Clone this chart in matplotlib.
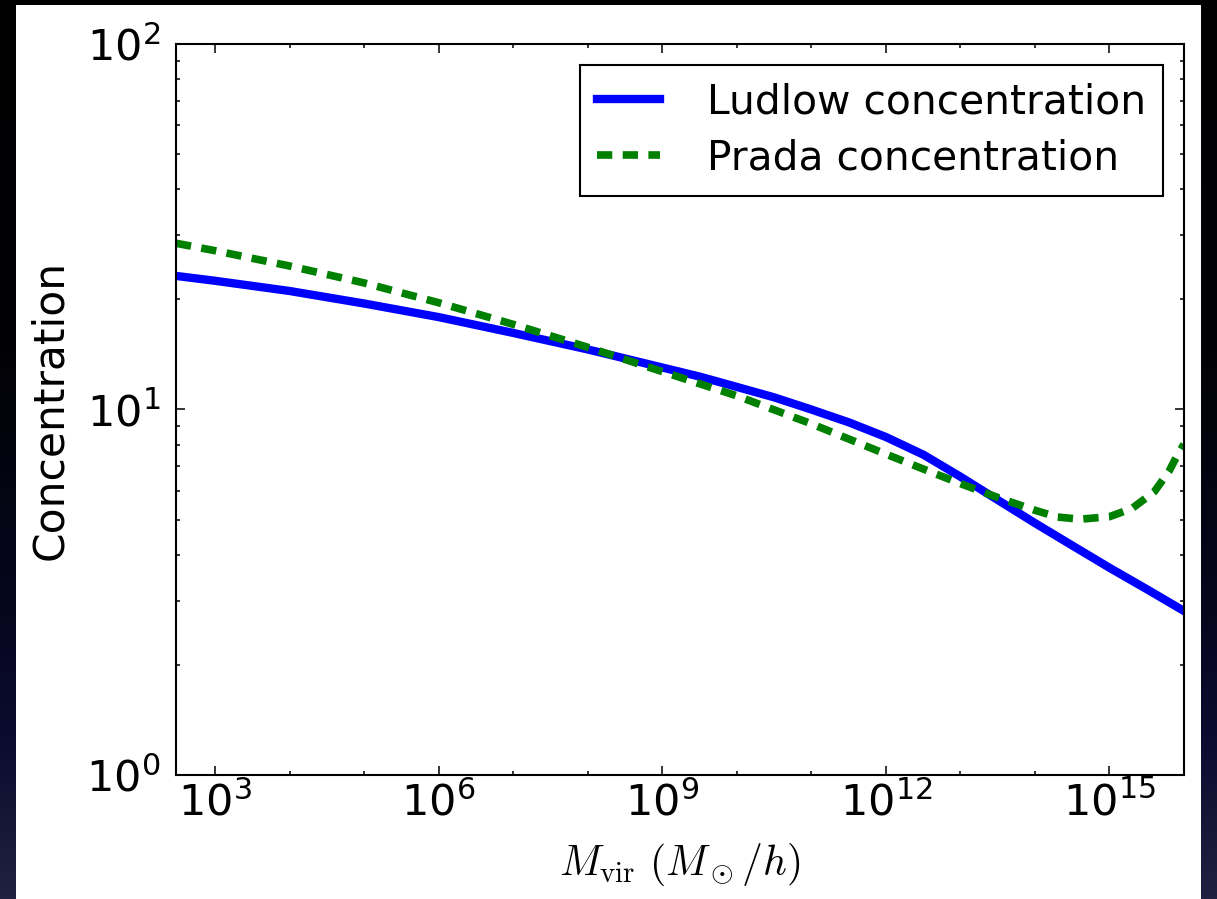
import matplotlib
matplotlib.use('Agg')
import numpy as np
import matplotlib.pyplot as plt
from matplotlib.colors import LinearSegmentedColormap
from matplotlib.patches import Rectangle
from matplotlib.ticker import FixedLocator, LogFormatterSciNotation, NullFormatter

# halo mass (M_sun/h) and concentrations
mass_ludlow = [3e2, 1e3, 1e4, 1e5, 1e6, 1e7, 1e8, 1e9, 3.2e9, 1e10, 3.2e10,
               1e11, 3.2e11, 1e12, 3.2e12, 1e13, 3.2e13, 1e14, 3.2e14, 1e15,
               3.2e15, 1e16]
c_ludlow = [23.2, 22.5, 21.1, 19.5, 17.9, 16.2, 14.6, 13.03, 12.30, 11.53, 10.79,
            10.0, 9.22, 8.41, 7.52, 6.55, 5.65, 4.89, 4.24, 3.69,
            3.22, 2.81]

mass_prada = [3e2, 1e3, 1e4, 1e5, 1e6, 1e7, 1e8, 1e9, 1e10, 1e11, 1e12,
              3.2e12, 1e13, 3.2e13, 1e14, 2.0e14, 4.0e14, 1e15, 2.0e15,
              2.8e15, 4.0e15, 6.3e15, 7.9e15, 1e16]
c_prada = [28.5, 27.2, 24.7, 22.2, 19.6, 17.1, 14.8, 12.7, 10.9, 9.14, 7.55,
           6.87, 6.27, 5.74, 5.30, 5.08, 5.01, 5.09, 5.36,
           5.64, 5.96, 6.78, 7.41, 8.04]

x_major = [1e3, 1e6, 1e9, 1e12, 1e15]
x_minor = [1e4, 1e5, 1e7, 1e8, 1e10, 1e11, 1e13, 1e14, 1e16]

plt.rcParams['mathtext.fontset'] = 'cm'
plt.rcParams['lines.scale_dashes'] = False

fig = plt.figure(figsize=(12.17, 8.99), dpi=100)
fig.patch.set_facecolor('black')

# dark slide background with white figure area
bg = fig.add_axes([0, 0, 1, 1], zorder=-10)
cmap = LinearSegmentedColormap.from_list(
    'slide', [(0, '#000000'), (0.4, '#020206'), (0.68, '#06061e'),
              (0.82, '#0b0b30'), (1.0, '#202040')])
bg.imshow(np.linspace(0, 1, 256).reshape(-1, 1), aspect='auto', cmap=cmap,
          extent=[0, 1, 0, 1], origin='upper')
bg.add_patch(Rectangle((16 / 1217, 0), (1201 - 16) / 1217, (899 - 5) / 899,
                       transform=bg.transAxes, facecolor='white', edgecolor='none'))
bg.set_axis_off()

ax = fig.add_axes([176 / 1217, 1 - 775 / 899, (1184 - 176) / 1217, (775 - 44) / 899])
ax.plot(mass_ludlow, c_ludlow, color='blue', lw=6, label='Ludlow concentration')
ax.plot(mass_prada, c_prada, color='green', lw=5.5, dashes=(11, 7.5),
        label='Prada concentration')

ax.set_xscale('log')
ax.set_yscale('log')
ax.set_xlim(3e2, 1e16)
ax.set_ylim(1, 100)

ax.xaxis.set_major_locator(FixedLocator(x_major))
ax.xaxis.set_minor_locator(FixedLocator(x_minor))
ax.xaxis.set_major_formatter(LogFormatterSciNotation())
ax.xaxis.set_minor_formatter(NullFormatter())

ax.tick_params(which='both', direction='in', top=True, right=True, width=1.1)
ax.tick_params(which='major', length=6.5, labelsize=31)
ax.tick_params(which='minor', length=3.2)
ax.tick_params(axis='x', which='major', pad=5)
ax.tick_params(axis='y', which='major', pad=11)
for s in ax.spines.values():
    s.set_linewidth(1.5)

ax.set_xlabel(r'$M_{\rm vir}\ (M_\odot/h)$', fontsize=30)
ax.set_ylabel('Concentration', fontsize=30.5)
ax.xaxis.set_label_coords(0.5, -0.09)
ax.yaxis.set_label_coords(-0.104, 0.5)

leg = ax.legend(loc='upper right', fontsize=29.3, fancybox=False, framealpha=1,
                edgecolor='black', borderaxespad=0.52, handlelength=1.55,
                handletextpad=1.15, labelspacing=0.4, borderpad=0.42)
leg.get_frame().set_linewidth(1.5)

fig.savefig('out.png', dpi=100, facecolor=fig.get_facecolor())
